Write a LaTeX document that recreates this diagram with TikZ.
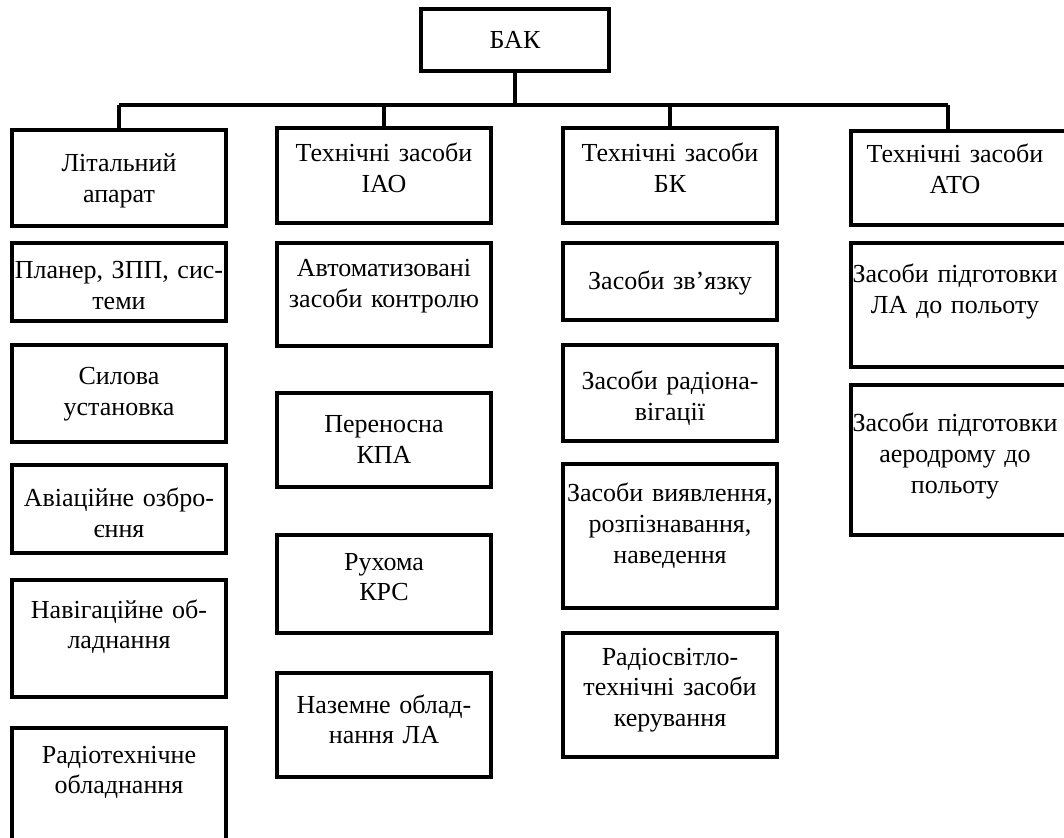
\documentclass[tikz,border=0pt]{standalone}
\usepackage{fontspec}
\setmainfont{Liberation Serif}
\begin{document}
\begin{tikzpicture}[x=0.5pt, y=-0.5pt,
  font=\fontsize{13pt}{15.3pt}\selectfont,
  box/.style={draw, line width=1.6pt, minimum width=107pt, inner sep=0pt},
  txt/.style={anchor=base, align=center, text width=130pt, inner sep=0pt},
  link/.style={line width=1.6pt}]

  \useasboundingbox (0,0) rectangle (1064,838);

  \node[box, minimum width=94pt, minimum height=31pt] (bak) at (515,40) {БАК};

  \coordinate (busL) at (119,105);
  \coordinate (busR) at (948,105);

  \node[box, minimum height=48pt] (la) at (119,178) {};
  \node[box, minimum height=39pt] (planer) at (119,282) {};
  \node[box, minimum height=48.5pt] (syl) at (119,393.5) {};
  \node[box, minimum height=44pt] (avo) at (119,509) {};
  \node[box, minimum height=58.5pt] (nav) at (119,638.5) {};
  \node[box, minimum height=71pt] (rto) at (119,799) {};

  \node[txt] (la-t) at (119,172) {Літальний\\апарат};
  \node[txt] (planer-t) at (119,279) {Планер, ЗПП, сис-\\теми};
  \node[txt] (syl-t) at (119,385) {Силова\\установка};
  \node[txt] (avo-t) at (119,507) {Авіаційне озбро-\\єння};
  \node[txt] (nav-t) at (119,618) {Навігаційне об-\\ладнання};
  \node[txt] (rto-t) at (119,763) {Радіотехнічне\\обладнання};

  \node[box, minimum height=47.5pt] (tia) at (384,175.5) {};
  \node[box, minimum height=51.5pt] (akz) at (384,294.5) {};
  \node[box, minimum height=47pt] (kpa) at (384,440) {};
  \node[box, minimum height=49pt] (krs) at (384,584) {};
  \node[box, minimum height=52pt] (nzo) at (384,725) {};

  \node[txt] (tia-t) at (384,162) {Технічні засоби\\ІАО};
  \node[txt] (akz-t) at (384,277) {Автоматизовані\\засоби контролю};
  \node[txt] (kpa-t) at (384,433) {Переносна\\КПА};
  \node[txt] (krs-t) at (384,570) {Рухома\\КРС};
  \node[txt] (nzo-t) at (384,713) {Наземне облад-\\нання ЛА};

  \node[box, minimum height=47.5pt] (tbk) at (670,175.5) {};
  \node[box, minimum height=38.5pt] (zv) at (670,281.5) {};
  \node[box, minimum height=48pt] (rn) at (670,393) {};
  \node[box, minimum height=72pt] (vyav) at (670,536) {};
  \node[box, minimum height=62pt] (rsv) at (670,695) {};

  \node[txt] (tbk-t) at (670,162) {Технічні засоби\\БК};
  \node[txt] (zv-t) at (670,290) {Засоби зв’язку};
  \node[txt] (rn-t) at (670,390) {Засоби радіона-\\вігації};
  \node[txt] (vyav-t) at (670,502) {Засоби виявлення,\\розпізнавання,\\наведення};
  \node[txt] (rsv-t) at (670,665) {Радіосвітло-\\технічні засоби\\керування};

  \node[box, minimum width=109pt, minimum height=47pt] (tato) at (960,178) {};
  \node[box, minimum width=109pt, minimum height=62pt] (pla) at (960,305) {};
  \node[box, minimum width=109pt, minimum height=75pt] (paer) at (960,460) {};

  \node[txt] (tato-t) at (955,163) {Технічні засоби\\АТО};
  \node[txt] (pla-t) at (955,283) {Засоби підготовки\\ЛА до польоту};
  \node[txt] (paer-t) at (955,432) {Засоби підготовки\\аеродрому до\\польоту};

  \draw[link] (bak.south) -- (bak.south |- busL);
  \draw[link] (busL) -- (busR);
  \draw[link] (busL) -- (la.north);
  \draw[link] (tia.north |- busL) -- (tia.north);
  \draw[link] (tbk.north |- busL) -- (tbk.north);
  \draw[link] (busR) -- (tato.north -| busR);

\end{tikzpicture}
\end{document}
